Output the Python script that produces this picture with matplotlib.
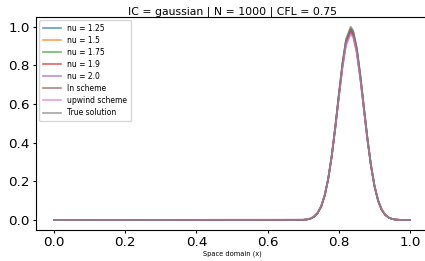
import matplotlib
matplotlib.use("Agg")
import matplotlib.pyplot as plt

x = [0.0, 0.70, 0.71, 0.72, 0.73, 0.74, 0.75, 0.76, 0.77, 0.78, 0.79, 0.80, 0.81, 0.82, 0.833,
     0.84, 0.85, 0.86, 0.87, 0.88, 0.89, 0.90, 0.91, 0.92, 0.93, 0.94, 0.95, 0.96, 0.97, 1.0]

nu_125 = [0, 0.001, 0.003, 0.007, 0.017, 0.036, 0.069, 0.127, 0.214, 0.335, 0.485, 0.650, 0.807, 0.928, 0.990,
          0.971, 0.886, 0.747, 0.584, 0.423, 0.283, 0.175, 0.101, 0.053, 0.027, 0.012, 0.005, 0.002, 0.001, 0]
nu_15 = [0, 0.001, 0.003, 0.007, 0.017, 0.035, 0.069, 0.126, 0.213, 0.333, 0.483, 0.647, 0.803, 0.923, 0.985,
         0.966, 0.882, 0.744, 0.581, 0.421, 0.282, 0.174, 0.100, 0.053, 0.027, 0.012, 0.005, 0.002, 0.001, 0]
nu_175 = [0, 0.001, 0.003, 0.007, 0.017, 0.035, 0.069, 0.125, 0.212, 0.331, 0.480, 0.644, 0.799, 0.918, 0.980,
          0.961, 0.877, 0.740, 0.578, 0.418, 0.280, 0.173, 0.100, 0.053, 0.026, 0.012, 0.005, 0.002, 0.001, 0]
nu_19 = [0, 0.001, 0.003, 0.007, 0.017, 0.035, 0.068, 0.125, 0.211, 0.330, 0.478, 0.641, 0.795, 0.914, 0.975,
         0.956, 0.873, 0.736, 0.575, 0.416, 0.279, 0.173, 0.099, 0.053, 0.026, 0.012, 0.005, 0.002, 0.001, 0]
nu_20 = [0, 0.001, 0.003, 0.007, 0.016, 0.035, 0.068, 0.124, 0.210, 0.328, 0.475, 0.637, 0.791, 0.909, 0.970,
         0.952, 0.868, 0.732, 0.572, 0.414, 0.277, 0.172, 0.099, 0.052, 0.026, 0.012, 0.005, 0.002, 0.001, 0]
ln_scheme = [0, 0.001, 0.003, 0.007, 0.017, 0.036, 0.069, 0.127, 0.214, 0.336, 0.487, 0.652, 0.809, 0.930, 0.992,
             0.973, 0.888, 0.749, 0.585, 0.424, 0.284, 0.176, 0.101, 0.054, 0.027, 0.012, 0.005, 0.002, 0.001, 0]
upwind = [0, 0.002, 0.004, 0.009, 0.019, 0.039, 0.073, 0.130, 0.216, 0.334, 0.480, 0.638, 0.790, 0.903, 0.960,
          0.943, 0.862, 0.730, 0.574, 0.419, 0.284, 0.178, 0.105, 0.057, 0.029, 0.014, 0.006, 0.003, 0.001, 0]
true_sol = [0, 0.001, 0.003, 0.007, 0.017, 0.036, 0.070, 0.128, 0.216, 0.338, 0.490, 0.657, 0.815, 0.937, 1.000,
            0.981, 0.895, 0.755, 0.590, 0.427, 0.286, 0.177, 0.102, 0.054, 0.027, 0.012, 0.005, 0.002, 0.001, 0]

series = [nu_125, nu_15, nu_175, nu_19, nu_20, ln_scheme, upwind, true_sol]
labels = ["nu = 1.25", "nu = 1.5", "nu = 1.75", "nu = 1.9", "nu = 2.0",
          "ln scheme", "upwind scheme", "True solution"]
colors = ["#1f77b4", "#ff7f0e", "#2ca02c", "#d62728", "#9467bd", "#8c564b", "#e377c2", "#7f7f7f"]

fig = plt.figure(figsize=(4.25, 2.61), dpi=100)
ax = fig.add_axes([0.085, 0.12, 0.922, 0.815])
for y, lab, c in zip(series, labels, colors):
    ax.plot(x, y, label=lab, color=c, lw=1.2, alpha=0.7)

ax.set_title("IC = gaussian | N = 1000 | CFL = 0.75", fontsize=7.8, pad=2)
ax.set_xlabel("Space domain (x)", fontsize=4.8, labelpad=1)
ax.tick_params(labelsize=9.7, length=2.5, pad=2)
ax.set_xticks([0.0, 0.2, 0.4, 0.6, 0.8, 1.0])
ax.set_yticks([0.0, 0.2, 0.4, 0.6, 0.8, 1.0])
leg = ax.legend(loc="upper left", fontsize=5.5, handlelength=2.4, borderpad=0.5,
                labelspacing=0.4, borderaxespad=0.4, frameon=True)
fig.savefig("out.png", dpi=100)
